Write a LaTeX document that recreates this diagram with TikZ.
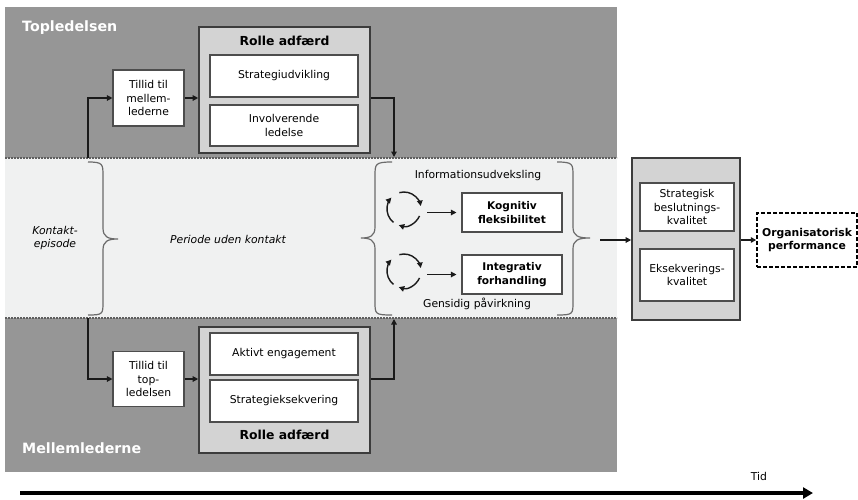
\documentclass[tikz,border=0pt]{standalone}
\usepackage{fontspec}
\setmainfont{DejaVu Sans}
\usetikzlibrary{arrows.meta}
\definecolor{band}{HTML}{969696}
\definecolor{lightband}{HTML}{F0F1F1}
\definecolor{rollefill}{HTML}{D3D3D3}
\definecolor{rolleline}{HTML}{3C3C3C}
\definecolor{boxline}{HTML}{4D4D4D}
\definecolor{dotline}{HTML}{5E5E5E}
\definecolor{braceline}{HTML}{6B6B6B}
\definecolor{connline}{HTML}{1A1A1A}
\newcommand{\fs}[2]{\fontsize{#1}{#2}\selectfont}
\begin{document}
\begin{tikzpicture}[x=1pt,y=-1pt,
  wbox/.style={draw=boxline, line width=1.1pt, fill=white, align=center, inner sep=0pt, font=\fs{10.8}{13.3}},
  bbox/.style={draw=boxline, line width=1.1pt, fill=white, align=center, inner sep=0pt, font=\fs{10.6}{13.3}\bfseries},
  rbox/.style={draw=rolleline, line width=1.6pt, fill=rollefill, inner sep=0pt},
  rtitle/.style={font=\fs{12.4}{14}\bfseries, inner sep=0pt},
  bandtitle/.style={font=\fs{14.2}{16}\bfseries, text=white, anchor=west, inner sep=0pt},
  itext/.style={font=\fs{10.8}{13.3}\itshape, align=center, inner sep=0pt},
  ntext/.style={font=\fs{10.8}{13.3}, align=center, inner sep=0pt},
  conn/.style={draw=connline, line width=1.2pt, -{Triangle[length=5.5pt,width=5.5pt]}},
  cyc/.style={draw=connline, line width=1.4pt, -{Triangle[length=5.5pt,width=5.5pt]}},
  bracestyle/.style={draw=braceline, line width=1.2pt},
  dotsep/.style={draw=dotline, line width=1.6pt, dash pattern=on 2pt off 1pt}
]
\useasboundingbox (0,0) rectangle (858,499);

% bands
\fill[band] (5,7) rectangle (617,158);
\fill[lightband] (5,158) rectangle (617,318);
\fill[band] (5,318) rectangle (617,472);
\draw[dotsep] (5,158) -- (617,158);
\draw[dotsep] (5,318) -- (617,318);

\node[bandtitle] (topt) at (22,28) {Topledelsen};
\node[bandtitle] (mellt) at (22,448) {Mellemlederne};

% top section
\node[wbox, minimum width=71pt, minimum height=56pt] (tt) at (148.5,98) {Tillid til\\mellem-\\lederne};
\node[rbox, minimum width=171pt, minimum height=126pt] (rt) at (284.5,90) {};
\node[rtitle] (rtl) at (284.5,41) {Rolle adfærd};
\node[wbox, minimum width=148pt, minimum height=42pt] (su) at (284,76) {Strategiudvikling};
\node[wbox, minimum width=148pt, minimum height=41pt] (il) at (284,125.5) {Involverende\\ledelse};

% bottom section
\node[wbox, minimum width=71pt, minimum height=55pt] (tb) at (148.5,379) {Tillid til\\top-\\ledelsen};
\node[rbox, minimum width=171pt, minimum height=126pt] (rb) at (284.5,390) {};
\node[wbox, minimum width=148pt, minimum height=42pt] (ae) at (284,354) {Aktivt engagement};
\node[wbox, minimum width=148pt, minimum height=42pt] (se) at (284,401) {Strategieksekvering};
\node[rtitle] (rbl) at (284.5,435) {Rolle adfærd};

% connectors top/bottom
\coordinate (tl) at (88,158);
\draw[conn] (tl) |- (tt.west);
\draw[conn] (tt.east) -- (tt.east -| rt.west);
\coordinate (tr) at (394,157);
\draw[conn] (rt.east |- tt.east) -| (tr);

\coordinate (bl) at (88,318);
\draw[conn] (bl) |- (tb.west);
\draw[conn] (tb.east) -- (tb.east -| rb.west);
\coordinate (br) at (394,319);
\draw[conn] (rb.east |- tb.east) -| (br);

% middle band texts
\node[itext] (ke) at (55,238) {Kontakt-\\episode};
\node[itext] (puk) at (228,239) {Periode uden kontakt};

% braces
\draw[bracestyle] (88,162) .. controls (103,162) and (103,164) .. (103,176) -- (103,228)
  .. controls (103,237) and (108,239) .. (118,239)
  .. controls (108,239) and (103,241) .. (103,250) -- (103,302)
  .. controls (103,314) and (103,315) .. (88,315);
\draw[bracestyle] (392,162) .. controls (375,162) and (375,164) .. (375,176) -- (375,227)
  .. controls (375,236) and (370,238) .. (361,238)
  .. controls (370,238) and (375,240) .. (375,249) -- (375,302)
  .. controls (375,314) and (375,315) .. (392,315);
\draw[bracestyle] (557,162) .. controls (573,162) and (573,164) .. (573,176) -- (573,227)
  .. controls (573,236) and (578,238) .. (590,238)
  .. controls (578,238) and (573,240) .. (573,249) -- (573,302)
  .. controls (573,314) and (573,315) .. (557,315);

\node[ntext] (iu) at (478,176) {Informationsudveksling};
\node[ntext] (gp) at (477,304) {Gensidig påvirkning};

\node[bbox, minimum width=100pt, minimum height=39pt] (kf) at (512,212.5) {Kognitiv\\fleksibilitet};
\node[bbox, minimum width=100pt, minimum height=39pt] (if) at (512,274.5) {Integrativ\\forhandling};

\node[circle, minimum size=36pt, inner sep=0pt] (cy1) at (404,209) {};
\node[circle, minimum size=36pt, inner sep=0pt] (cy2) at (404,271) {};
\foreach \c in {cy1,cy2}{
  \draw[cyc] (\c.center) ++(232:17pt) arc[start angle=232, end angle=138, radius=17pt];
  \draw[cyc] (\c.center) ++(106:17pt) arc[start angle=106, end angle=10, radius=17pt];
  \draw[cyc] (\c.center) ++(336:17pt) arc[start angle=336, end angle=252, radius=17pt];
}
\draw[conn, shorten <=5pt, shorten >=5pt] (cy1.east |- kf.west) -- (kf.west);
\draw[conn, shorten <=5pt, shorten >=5pt] (cy2.east |- if.west) -- (if.west);

% right part
\node[rbox, minimum width=108pt, minimum height=162pt] (ro) at (686,239) {};
\node[wbox, minimum width=94pt, minimum height=48pt] (sb) at (687,207) {Strategisk\\beslutnings-\\kvalitet};
\node[wbox, minimum width=94pt, minimum height=52pt] (ek) at (687,275) {Eksekverings-\\kvalitet};
\coordinate (bt) at (600,240);
\draw[conn] (bt) -- (bt -| ro.west);
\node[draw=black, line width=1.5pt, dash pattern=on 4pt off 2pt, fill=white, align=center, inner sep=0pt,
  minimum width=100pt, minimum height=54pt, font=\fs{10.8}{13.3}\bfseries] (pf) at (807,240) {Organisatorisk\\performance};
\draw[conn, line width=2pt] (ro.east |- pf.west) -- (pf.west);

% time axis
\coordinate (t0) at (20,493);
\coordinate (t1) at (813,493);
\draw[line width=3.5pt, -{Triangle[length=10pt,width=11pt]}] (t0) -- (t1);
\node[ntext] (tid) at (759,476) {Tid};
\end{tikzpicture}
\end{document}
